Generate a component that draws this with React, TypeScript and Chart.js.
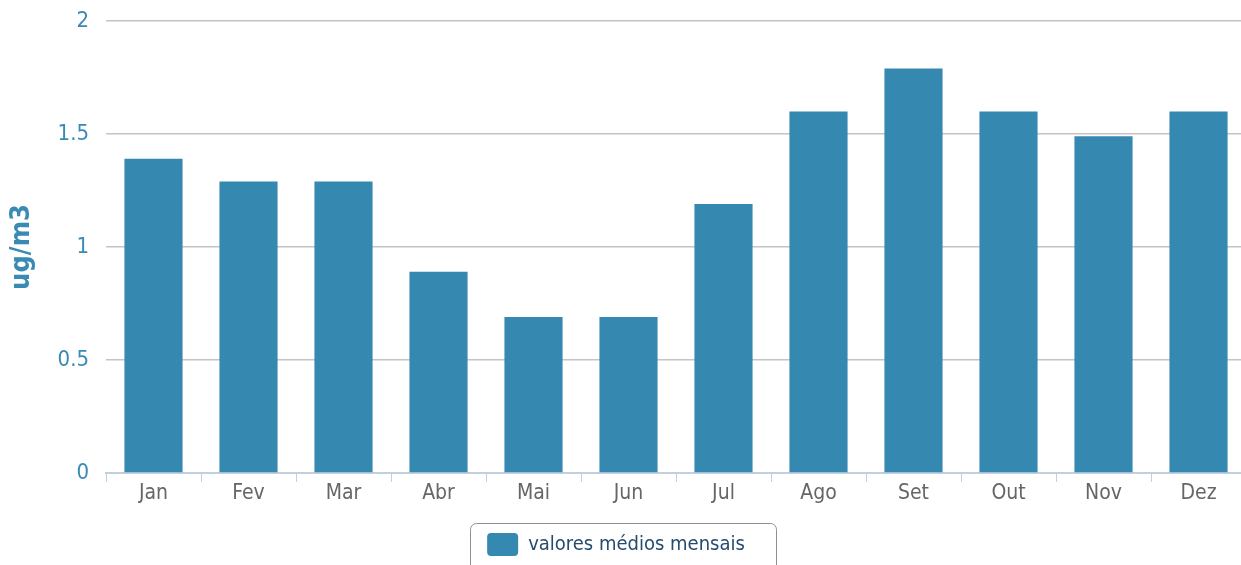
import React, { useEffect, useRef } from "react";
import { Chart, registerables } from "chart.js";

Chart.register(...registerables);

const categories = ["Jan", "Fev", "Mar", "Abr", "Mai", "Jun", "Jul", "Ago", "Set", "Out", "Nov", "Dez"];
const monthlyValues = [1.39, 1.29, 1.29, 0.89, 0.69, 0.69, 1.19, 1.6, 1.79, 1.6, 1.49, 1.6];
const yTickValues = [0, 0.5, 1, 1.5, 2];
const seriesName = "valores médios mensais";
const yAxisTitle = "ug/m3";

const FONT = "'DejaVu Sans Condensed', 'DejaVu Sans', sans-serif";
const BAR_COLOR = "#3589b0";
const AXIS_BLUE = "#3a8bb4";

const legendBorder = {
  id: "legendBorder",
  afterDraw(chart: any) {
    const lg = chart.legend;
    if (!lg || !lg.legendHitBoxes || !lg.legendHitBoxes.length) return;
    const hb = lg.legendHitBoxes[0];
    const ctx = chart.ctx;
    ctx.save();
    ctx.strokeStyle = "#909090";
    ctx.lineWidth = 1;
    ctx.beginPath();
    const left = Math.round(hb.left - 17) + 0.5;
    const top = Math.round(hb.top - 10) + 0.5;
    const right = Math.round(hb.left + hb.width + 31) + 0.5;
    ctx.roundRect(left, top, right - left, 80, 6);
    ctx.stroke();
    ctx.restore();
  },
};

export default function App() {
  const ref = useRef<HTMLCanvasElement | null>(null);

  useEffect(() => {
    const canvas = ref.current!;
    const chart = new Chart(canvas, {
      type: "bar",
      data: {
        labels: categories,
        datasets: [
          {
            label: seriesName,
            data: monthlyValues,
            backgroundColor: BAR_COLOR,
            borderWidth: 0,
            categoryPercentage: 1,
            barPercentage: 0.612,
          },
        ],
      },
      options: {
        responsive: false,
        animation: false,
        devicePixelRatio: 1,
        layout: { padding: { top: 21, left: 0, right: 0, bottom: 14 } },
        plugins: {
          tooltip: { enabled: false },
          legend: {
            position: "bottom",
            labels: {
              boxWidth: 31,
              boxHeight: 23,
              useBorderRadius: true,
              borderRadius: 4,
              color: "#274b6d",
              padding: 10,
              font: { family: FONT, size: 20 },
            },
          },
        },
        scales: {
          x: {
            grid: {
              display: true,
              drawOnChartArea: false,
              drawTicks: true,
              tickLength: 9,
              color: "#C0D0E0",
              lineWidth: 1,
              offset: true,
            },
            border: { display: true, color: "#C0D0E0", width: 2 },
            ticks: {
              color: "#666666",
              font: { family: FONT, size: 21 },
              padding: -1,
              maxRotation: 0,
              autoSkip: false,
            },
            afterFit: (s: any) => {
              s.height = 50;
            },
          },
          y: {
            min: 0,
            max: 2,
            afterBuildTicks: (s: any) => {
              s.ticks = yTickValues.map((v) => ({ value: v }));
            },
            ticks: {
              color: AXIS_BLUE,
              font: { family: FONT, size: 22 },
              padding: 17,
              callback: (v: any) => String(v),
            },
            grid: { color: "#C4C4C4", lineWidth: 1.5, drawTicks: false },
            border: { display: false },
            title: {
              display: true,
              text: yAxisTitle,
              color: AXIS_BLUE,
              font: { family: FONT, size: 27, weight: "bold" },
              padding: { top: 20, bottom: 0 },
            },
            afterFit: (s: any) => {
              s.width = 120;
              s.paddingTop = 0;
              s.paddingBottom = 0;
            },
          },
        },
      },
      plugins: [legendBorder],
    });
    return () => chart.destroy();
  }, []);

  return (
    <div
      style={{
        position: "fixed",
        left: 0,
        top: 0,
        width: 1241,
        height: 565,
        overflow: "hidden",
        background: "#fff",
      }}
    >
      <canvas
        ref={ref}
        width={1260}
        height={580}
        style={{ position: "absolute", left: -14, top: 0, width: 1260, height: 580, display: "block" }}
      />
    </div>
  );
}
